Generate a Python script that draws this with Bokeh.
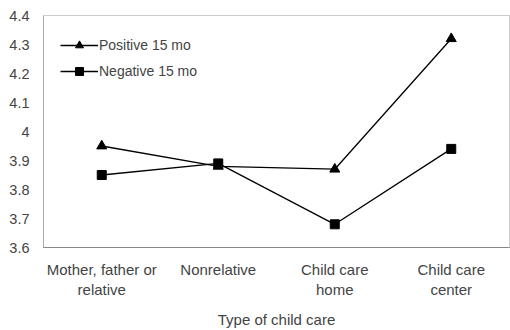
from bokeh.plotting import figure
from bokeh.models import FixedTicker, NumeralTickFormatter, Legend, LegendItem
from bokeh.embed import file_html
from bokeh.resources import INLINE

categories = ["Mother, father or\nrelative", "Nonrelative", "Child care\nhome", "Child care\ncenter"]
positive = [3.95, 3.88, 3.87, 4.32]
negative = [3.85, 3.89, 3.68, 3.94]
y_ticks = [3.6, 3.7, 3.8, 3.9, 4.0, 4.1, 4.2, 4.3, 4.4]

xs = list(range(len(categories)))
FONT = "Liberation Sans"

p = figure(width=510, height=330, output_backend="svg", toolbar_location=None,
           x_range=(-0.5, 3.5), y_range=(3.6, 4.4),
           min_border_left=43, min_border_right=1, min_border_top=15, min_border_bottom=82)
p.xgrid.grid_line_color = None
p.ygrid.grid_line_color = None
p.outline_line_color = "#999999"
p.outline_line_dash = "1 1"
p.background_fill_color = "white"
p.border_fill_color = "white"

l1 = p.line(xs, positive, line_color="black", line_width=1.3)
m1 = p.scatter(xs, positive, marker="triangle", size=10, color="black")
l2 = p.line(xs, negative, line_color="black", line_width=1.3)
m2 = p.scatter(xs, negative, marker="square", size=9, color="black")

legend = Legend(items=[LegendItem(label="Positive 15 mo", renderers=[l1, m1]),
                       LegendItem(label="Negative 15 mo", renderers=[l2, m2])],
                location=(17, 166), border_line_color=None, background_fill_alpha=0,
                label_text_font=FONT, label_text_font_size="14px", glyph_width=38,
                glyph_height=20, label_height=20,
                spacing=6, label_standoff=1, padding=4)
p.add_layout(legend, "center")

p.yaxis.ticker = FixedTicker(ticks=y_ticks)
p.yaxis.formatter = NumeralTickFormatter(format="0.[0]")
p.yaxis.major_tick_line_color = None
p.yaxis.minor_tick_line_color = None
p.yaxis.axis_line_color = "#888888"
p.yaxis.axis_line_dash = "1 1"
p.yaxis.major_label_text_font = FONT
p.yaxis.major_label_text_font_size = "14.5px"
p.yaxis.major_label_standoff = 8

p.xaxis.ticker = FixedTicker(ticks=xs)
p.xaxis.major_label_overrides = {i: c for i, c in enumerate(categories)}
p.xaxis.major_tick_line_color = None
p.xaxis.minor_tick_line_color = None
p.xaxis.axis_line_color = "#888888"
p.xaxis.major_label_text_font = FONT
p.xaxis.major_label_text_font_size = "15px"
p.xaxis.major_label_standoff = 7
p.xaxis.axis_label = "Type of child care"
p.xaxis.axis_label_text_font = FONT
p.xaxis.axis_label_text_font_size = "15px"
p.xaxis.axis_label_text_font_style = "normal"
p.xaxis.axis_label_standoff = 10

open("out.html", "w").write(file_html(p, INLINE))
